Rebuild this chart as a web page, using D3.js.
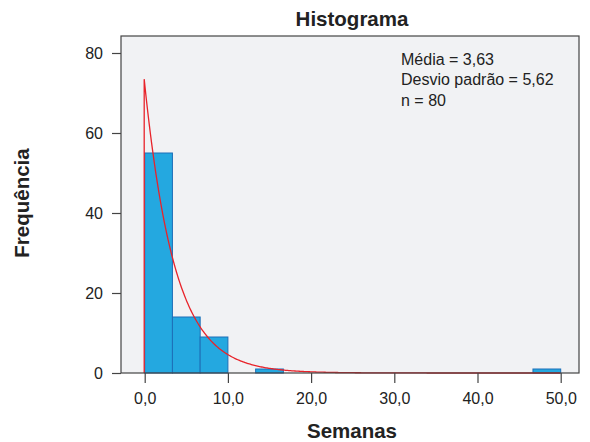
<!DOCTYPE html>
<html>
<head>
<meta charset="utf-8">
<script src="https://cdn.jsdelivr.net/npm/d3@7"></script>
<style>
  body { margin: 0; background: #fff; }
  text { font-family: "Liberation Sans", Arial, sans-serif; fill: #222; }
</style>
</head>
<body>
<div id="chart"></div>
<script>
// Histogram data (bin edges in weeks, counts)
const binStarts = [0, 10/3, 20/3, 10, 40/3, 50/3, 20, 70/3, 80/3, 30, 100/3, 110/3, 40, 130/3, 140/3];
const binWidth = 10/3;
const counts = [55, 14, 9, 0, 1, 0, 0, 0, 0, 0, 0, 0, 0, 0, 1];
const xTicks = [0, 10, 20, 30, 40, 50];
const yTicks = [0, 20, 40, 60, 80];
const statLines = ["Média = 3,63", "Desvio padrão = 5,62", "n = 80"];
const mean = 3.63, n = 80;

const width = 590, height = 442;
const plot = {left: 121, top: 36, right: 579, bottom: 373};

let svg = d3.select("#chart")
    .append("svg")
    .attr("width", width)
    .attr("height", height);

// scales: 0 -> 144.7px, 50 -> 560.7px ; 0 -> 373px, 80 -> 53px
let x = d3.scaleLinear()
    .domain([0, 50])
    .range([144.7, 560.7]);
let y = d3.scaleLinear()
    .domain([0, 80])
    .range([373, 53]);

// plot background
svg.append("rect")
    .attr("x", plot.left)
    .attr("y", plot.top)
    .attr("width", plot.right - plot.left)
    .attr("height", plot.bottom - plot.top)
    .attr("fill", "#f1f2f4");

// bars
let bins = binStarts.map((s, i) => ({start: s, count: counts[i]})).filter(d => d.count > 0);
svg.append("g").selectAll("rect")
    .data(bins)
    .enter()
    .append("rect")
    .attr("x", d => x(d.start))
    .attr("y", d => y(d.count))
    .attr("width", d => x(d.start + binWidth) - x(d.start))
    .attr("height", d => y(0) - y(d.count))
    .attr("fill", "#24a8e0")
    .attr("stroke", "#1d6fb8")
    .attr("stroke-width", 1);

// fitted exponential curve from the displayed mean and n
let curvePts = [[0, 0]];
for (let i = 0; i <= 400; i++) {
    let v = i * 50 / 400;
    curvePts.push([v, n * binWidth / mean * Math.exp(-v / mean)]);
}
svg.append("path")
    .datum(curvePts)
    .attr("d", d3.line().x(d => x(d[0]) - 0.5).y(d => y(d[1])))
    .attr("fill", "none")
    .attr("stroke", "#e8232a")
    .attr("stroke-width", 1.3);

// frame
svg.append("rect")
    .attr("x", plot.left)
    .attr("y", plot.top)
    .attr("width", plot.right - plot.left)
    .attr("height", plot.bottom - plot.top)
    .attr("fill", "none")
    .attr("stroke", "#444")
    .attr("stroke-width", 1.2);

// axes
let yAxis = svg.append("g")
    .attr("transform", `translate(${plot.left}, 0)`)
    .call(d3.axisLeft(y).tickValues(yTicks).tickSize(9).tickPadding(9).tickFormat(d3.format("d")));
let xAxis = svg.append("g")
    .attr("transform", `translate(0, ${plot.bottom})`)
    .call(d3.axisBottom(x).tickValues(xTicks).tickSize(10).tickPadding(10)
        .tickFormat(d => d3.format(".1f")(d).replace(".", ",")));
[xAxis, yAxis].forEach(a => {
    a.select(".domain").remove();
    a.selectAll("line").attr("stroke", "#444").attr("stroke-width", 1.2);
    a.selectAll("text")
        .style("font-size", "16px")
        .style("font-family", "'Liberation Sans', Arial, sans-serif")
        .attr("fill", "#222");
});

// stats box text
svg.append("g").selectAll("text")
    .data(statLines)
    .enter()
    .append("text")
    .attr("x", 401)
    .attr("y", (d, i) => 64.5 + i * 20.6)
    .style("font-size", "16px")
    .text(d => d);

// title and axis labels
svg.append("text")
    .attr("x", 352)
    .attr("y", 26)
    .style("text-anchor", "middle")
    .style("font-size", "20.5px")
    .style("font-weight", "bold")
    .text("Histograma");

svg.append("text")
    .attr("x", 352)
    .attr("y", 438)
    .style("text-anchor", "middle")
    .style("font-size", "20.5px")
    .style("font-weight", "bold")
    .text("Semanas");

svg.append("text")
    .attr("transform", `translate(29, 203) rotate(-90)`)
    .style("text-anchor", "middle")
    .style("font-size", "20.5px")
    .style("font-weight", "bold")
    .text("Frequência");
</script>
</body>
</html>
